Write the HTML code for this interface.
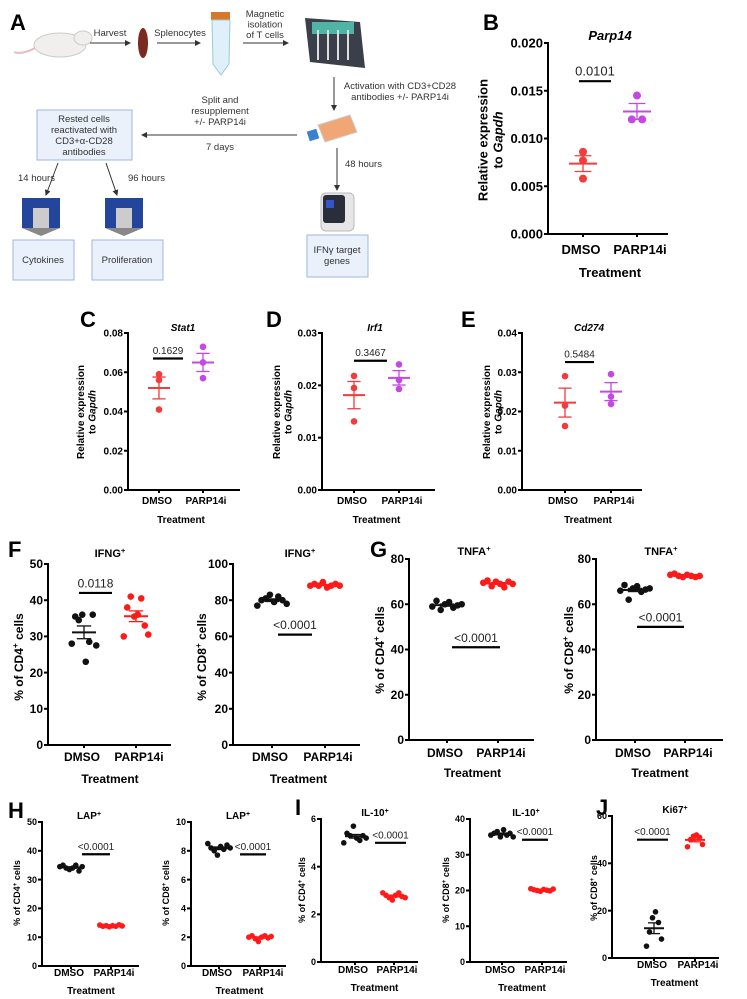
<!DOCTYPE html>
<html><head><meta charset="utf-8">
<style>
html,body{margin:0;padding:0;background:#fff;}
svg{display:block;}
text{font-family:"Liberation Sans Narrow","Liberation Sans",sans-serif;}
.lbl{font-family:"Liberation Sans",sans-serif;font-weight:bold;font-size:22px;}
.dg{font-family:"Liberation Sans Narrow","Liberation Sans",sans-serif;font-size:9.5px;fill:#333;}
</style></head>
<body>
<svg id="fig" width="747" height="999" viewBox="0 0 747 999" xmlns="http://www.w3.org/2000/svg">
<defs><marker id="ah" markerWidth="6" markerHeight="6" refX="5" refY="3" orient="auto"><path d="M0,0 L6,3 L0,6 z" fill="#333"/></marker></defs>
<g>
<text class="lbl" x="10" y="30">A</text>
<g><ellipse cx="60" cy="45" rx="26" ry="12" fill="#f1eeee" stroke="#ccc"/><ellipse cx="83" cy="38" rx="9" ry="7" fill="#f1eeee" stroke="#ccc"/><path d="M35,48 Q22,55 14,52" stroke="#e7bcbc" fill="none" stroke-width="2"/></g>
<line x1="90" y1="43" x2="130" y2="43" stroke="#333" marker-end="url(#ah)"/>
<text class="dg" x="110" y="36" text-anchor="middle">Harvest</text>
<ellipse cx="143" cy="43" rx="5" ry="15" fill="#7a2a20"/>
<line x1="157" y1="43" x2="200" y2="43" stroke="#333" marker-end="url(#ah)"/>
<text class="dg" x="180" y="36" text-anchor="middle">Splenocytes</text>
<g><rect x="211" y="12" width="19" height="8" fill="#d8772a"/><path d="M212,20 L230,20 L229,64 L221,75 L213,64 z" fill="#dff0fb" stroke="#9cc"/></g>
<line x1="243" y1="43" x2="288" y2="43" stroke="#333" marker-end="url(#ah)"/>
<text class="dg" x="265" y="17" text-anchor="middle"><tspan x="265">Magnetic</tspan><tspan x="265" dy="10.5">isolation</tspan><tspan x="265" dy="10.5">of T cells</tspan></text>
<g><path d="M305,18 L360,22 L365,68 L310,62 z" fill="#3a3f4a"/><rect x="312" y="22" width="42" height="12" fill="#4fb3a6"/><line x1="318" y1="30" x2="318" y2="60" stroke="#ddd" stroke-width="2"/><line x1="328" y1="30" x2="328" y2="60" stroke="#ddd" stroke-width="2"/><line x1="338" y1="30" x2="338" y2="60" stroke="#ddd" stroke-width="2"/><line x1="348" y1="30" x2="348" y2="60" stroke="#ddd" stroke-width="2"/></g>
<line x1="334" y1="77" x2="334" y2="110" stroke="#333" marker-end="url(#ah)"/>
<text class="dg" x="400" y="89" text-anchor="middle"><tspan x="400">Activation with CD3+CD28</tspan><tspan x="400" dy="11">antibodies +/- PARP14i</tspan></text>
<g><path d="M318,125 L350,115 L357,132 L325,142 z" fill="#f0a675" stroke="#ccc"/><rect x="308" y="130" width="10" height="10" fill="#3a7fd0" transform="rotate(-18 313 135)"/></g>
<line x1="297" y1="135" x2="142" y2="135" stroke="#333" marker-end="url(#ah)"/>
<text class="dg" x="220" y="103" text-anchor="middle"><tspan x="220">Split and</tspan><tspan x="220" dy="11">resupplement</tspan><tspan x="220" dy="11">+/- PARP14i</tspan></text>
<text class="dg" x="220" y="150" text-anchor="middle">7 days</text>
<rect x="37" y="110" width="95" height="50" fill="#eaf1fb" stroke="#9fb8dd"/>
<text class="dg" x="84" y="122" text-anchor="middle"><tspan x="84">Rested cells</tspan><tspan x="84" dy="11">reactivated with</tspan><tspan x="84" dy="11">CD3+α-CD28</tspan><tspan x="84" dy="11">antibodies</tspan></text>
<line x1="58" y1="163" x2="46" y2="195" stroke="#333" marker-end="url(#ah)"/>
<line x1="106" y1="163" x2="117" y2="195" stroke="#333" marker-end="url(#ah)"/>
<text class="dg" x="18" y="181">14 hours</text>
<text class="dg" x="128" y="181">96 hours</text>
<g><rect x="22" y="198" width="38" height="30" fill="#23459b"/><rect x="33" y="208" width="16" height="20" fill="#ccc"/><path d="M22,228 L60,228 L41,236 z" fill="#888"/></g>
<g><rect x="105" y="198" width="38" height="30" fill="#23459b"/><rect x="116" y="208" width="16" height="20" fill="#ccc"/><path d="M105,228 L143,228 L124,236 z" fill="#888"/></g>
<rect x="13" y="240" width="61" height="40" fill="#eaf1fb" stroke="#9fb8dd"/>
<text class="dg" x="43" y="263" text-anchor="middle">Cytokines</text>
<rect x="92" y="240" width="71" height="40" fill="#eaf1fb" stroke="#9fb8dd"/>
<text class="dg" x="127" y="263" text-anchor="middle">Proliferation</text>
<line x1="337" y1="148" x2="337" y2="190" stroke="#333" marker-end="url(#ah)"/>
<text class="dg" x="345" y="167">48 hours</text>
<g><rect x="321" y="193" width="33" height="38" rx="5" fill="#e6e6e6" stroke="#bbb"/><rect x="323" y="195" width="22" height="28" rx="3" fill="#2a2d3a"/><rect x="326" y="200" width="8" height="8" fill="#3456c8"/></g>
<rect x="307" y="235" width="61" height="42" fill="#eaf1fb" stroke="#9fb8dd"/>
<text class="dg" x="337" y="253" text-anchor="middle"><tspan x="337">IFNγ target</tspan><tspan x="337" dy="11">genes</tspan></text>
</g>
<g id="charts"></g>
</svg>
<script>
// ---- data ----
const cats=["DMSO","PARP14i"];
const bDmso=[0.0086,0.0077,0.0058], bParp=[0.0145,0.0120,0.0120];
const bTicks=["0.000","0.005","0.010","0.015","0.020"];
const cDmso=[0.059,0.056,0.041], cParp=[0.073,0.065,0.057];
const cTicks=["0.00","0.02","0.04","0.06","0.08"];
const dDmso=[0.0218,0.0195,0.0131], dParp=[0.0240,0.0210,0.0193];
const dTicks=["0.00","0.01","0.02","0.03"];
const eDmso=[0.0290,0.0215,0.0163], eParp=[0.0295,0.0238,0.0219];
const eTicks=["0.00","0.01","0.02","0.03","0.04"];
const f1Dmso=[28,35.5,34.5,36,23,28.5,36,27.5], f1Parp=[30,38,41,35.5,36,40.5,33,30.5];
const f1Ticks=["0","10","20","30","40","50"];
const f2Dmso=[77,80,81,83,79,82,80,78], f2Parp=[88,89,88,90,87,88,89,88];
const f2Ticks=["0","20","40","60","80","100"];
const g1Dmso=[59,61.5,57.5,60,61,58.5,59.5,60], g1Parp=[69.5,70.5,68,70,69,67.5,70,69];
const g2Dmso=[66,68.5,62,67,68,65.5,66.5,67], g2Parp=[73,73.5,72.5,72,73,72.5,72,72.5];
const gTicks=["0","20","40","60","80"];
const h1Dmso=[34.5,35,34,33.5,34,35,33,34.5], h1Parp=[14.2,13.8,14,13.6,14,13.8,14.3,13.9];
const h1Ticks=["0","10","20","30","40","50"];
const h2Dmso=[8.5,8.2,8.0,7.7,8.3,8.1,8.4,8.2], h2Parp=[2.0,2.1,1.9,1.7,2.0,2.1,1.95,2.05];
const h2Ticks=["0","2","4","6","8","10"];
const i1Dmso=[5.0,5.4,5.3,5.7,5.2,5.1,5.3,5.2], i1Parp=[2.9,2.8,2.7,2.6,2.8,2.9,2.75,2.7];
const i1Ticks=["0","2","4","6"];
const i2Dmso=[35.5,36,36.5,35,37,35.5,36,35], i2Parp=[20.5,20.2,20,19.8,20.3,20.1,19.9,20.4];
const i2Ticks=["0","10","20","30","40"];
const jDmso=[5,11,17,19.5,15,8], jParp=[47,50,51.5,52,51,48];
const jTicks=["0","20","40","60"];
const pvals=["0.0101","0.1629","0.3467","0.5484","0.0118","<0.0001","<0.0001","<0.0001","<0.0001","<0.0001","<0.0001","<0.0001","<0.0001"];

const NS="http://www.w3.org/2000/svg";
const root=document.getElementById('charts');
function mk(parent,tag,attrs,name){
  const el=document.createElementNS(NS,tag);
  for(const k in attrs) el.setAttribute(k,attrs[k]);
  
  
  parent.appendChild(el);return el;
}
function mean(a){return a.reduce((s,v)=>s+v,0)/a.length;}
function sem(a){const m=mean(a);const sd=Math.sqrt(a.reduce((s,v)=>s+(v-m)*(v-m),0)/(a.length-1));return sd/Math.sqrt(a.length);}

function panel(o){
  const g=mk(root,'g',{},o.id);
  const max=parseFloat(o.ticks[o.ticks.length-1]);
  const y=v=>o.y0-(v/max)*(o.y0-o.yt);
  const lw=o.lw||2;
  const ytf=o.ytk||o.tf;
  mk(g,'line',{x1:o.ax,y1:o.yt-1,x2:o.ax,y2:o.y0,stroke:'#000','stroke-width':lw},'y-axis');
  mk(g,'line',{x1:o.ax,y1:o.y0,x2:o.xe,y2:o.y0,stroke:'#000','stroke-width':lw},'x-axis');
  o.ticks.forEach(t=>{
    const v=parseFloat(t),yy=y(v);
    mk(g,'line',{x1:o.ax-4,y1:yy,x2:o.ax,y2:yy,stroke:'#000','stroke-width':lw},'y-tick');
    const tx=mk(g,'text',{x:o.ax-5,y:yy+ytf*0.35,'text-anchor':'end','font-size':ytf,'font-weight':'bold'},'y-tick-label');
    tx.textContent=t;
  });
  o.xs.forEach((x,i)=>{
    mk(g,'line',{x1:x,y1:o.y0,x2:x,y2:o.y0+3,stroke:'#000','stroke-width':lw},'x-tick');
    const tx=mk(g,'text',{x:x+(i===0?-2:3),y:o.xly,'text-anchor':'middle','font-size':o.tf,'font-weight':'bold'},'x-tick-label-'+cats[i].toLowerCase());
    tx.textContent=cats[i];
  });
  const tt=mk(g,'text',{x:(o.xs[0]+o.xs[1])/2,y:o.ty,'text-anchor':'middle','font-size':o.tf,'font-weight':'bold'},'x-axis-title');
  tt.textContent='Treatment';
  const ti=mk(g,'text',{x:o.tx,y:o.tly,'text-anchor':'middle','font-size':o.tlf,'font-weight':'bold','font-style':o.it?'italic':'normal'},'chart-title');
  ti.innerHTML=o.title;
  const yt=mk(g,'text',{transform:`translate(${o.ytx},${o.ytcy}) rotate(-90)`,'text-anchor':'middle','font-size':o.ytf,'font-weight':'bold','font-family':'Liberation Sans, sans-serif'},'y-axis-title');
  yt.innerHTML=o.ytitle;
  const pl=mk(g,'text',{x:(o.p1+o.p2)/2,y:y(o.pv)-o.pf*0.45,'text-anchor':'middle','font-size':o.pf,fill:'#222'},'p-value-label');
  pl.textContent=o.ptxt;
  mk(g,'line',{x1:o.p1,y1:y(o.pv),x2:o.p2,y2:y(o.pv),stroke:'#000','stroke-width':2.2},'p-value-bar');
  [o.d,o.p].forEach((arr,si)=>{
    const cx=o.xs[si],col=o.cols[si],n=arr.length;
    const sp=n>=6?(o.sp||4.3):0;
    arr.forEach((v,i)=>{
      let off=(i-(n-1)/2)*sp;
      if(n<6){const dup=arr.filter(w=>Math.abs(w-v)<max*0.01);if(dup.length>1){off=(arr.indexOf(v)===i?-1:1)*o.r*1.3;}}
      mk(g,'circle',{cx:cx+off,cy:y(v),r:o.r,fill:col},'point-'+cats[si].toLowerCase());
    });
    const m=mean(arr),s=sem(arr),hw=o.mw;
    const ec=col;
    mk(g,'line',{x1:cx-hw,y1:y(m),x2:cx+hw,y2:y(m),stroke:ec,'stroke-width':2},'mean-line-'+cats[si].toLowerCase());
    mk(g,'line',{x1:cx,y1:y(m+s),x2:cx,y2:y(m-s),stroke:ec,'stroke-width':1.3},'sem-bar-'+cats[si].toLowerCase());
    mk(g,'line',{x1:cx-hw*0.6,y1:y(m+s),x2:cx+hw*0.6,y2:y(m+s),stroke:ec,'stroke-width':1.3},'sem-cap-'+cats[si].toLowerCase());
    mk(g,'line',{x1:cx-hw*0.6,y1:y(m-s),x2:cx+hw*0.6,y2:y(m-s),stroke:ec,'stroke-width':1.3},'sem-cap-'+cats[si].toLowerCase());
  });
  const L=mk(g,'text',{x:o.lx,y:o.ly,'class':'lbl'},'panel-label');
  L.textContent=o.label;
}
const RED='#f23b3b',PUR='#c447e6',BLK='#111',RED2='#ff1a1a';
const relY='<tspan x="0" dy="-0.2em">Relative expression</tspan><tspan x="0" dy="1.15em">to <tspan font-style="italic">Gapdh</tspan></tspan>';
const cd4='% of CD4<tspan baseline-shift="super" font-size="70%">+</tspan> cells';
const cd8='% of CD8<tspan baseline-shift="super" font-size="70%">+</tspan> cells';
function sup(s){return s+'<tspan baseline-shift="super" font-size="70%">+</tspan>';}

panel({id:'panel-b',label:'B',lx:483,ly:30,ax:548,xe:668,yt:43,y0:234,ticks:bTicks,xs:[583,637],d:bDmso,p:bParp,cols:[RED,PUR],r:4,mw:14,tf:13,xly:254,ty:277,title:'Parp14',it:true,tx:610,tly:40,tlf:13,ytitle:relY,ytx:490,ytcy:140,ytf:13,pv:0.016,p1:579,p2:611,ptxt:pvals[0],pf:13});
panel({id:'panel-c',label:'C',lx:80,ly:327,ax:128,xe:240,yt:333,y0:490,ticks:cTicks,xs:[159,203],d:cDmso,p:cParp,cols:[RED,PUR],r:3.3,mw:11,tf:10,xly:504,ty:523,title:'Stat1',it:true,tx:183,tly:331,tlf:10,ytitle:relY,ytx:86,ytcy:412,ytf:10,pv:0.067,p1:153,p2:183,ptxt:pvals[1],pf:10});
panel({id:'panel-d',label:'D',lx:266,ly:327,ax:322,xe:435,yt:333,y0:490,ticks:dTicks,xs:[354,399],d:dDmso,p:dParp,cols:[RED,PUR],r:3.3,mw:11,tf:10,xly:504,ty:523,title:'Irf1',it:true,tx:375,tly:331,tlf:10,ytitle:relY,ytx:282,ytcy:412,ytf:10,pv:0.0247,p1:354,p2:387,ptxt:pvals[2],pf:10});
panel({id:'panel-e',label:'E',lx:461,ly:327,ax:522,xe:642,yt:333,y0:490,ticks:eTicks,xs:[565,611],d:eDmso,p:eParp,cols:[RED,PUR],r:3.3,mw:11,tf:10,xly:504,ty:523,title:'Cd274',it:true,tx:589,tly:331,tlf:10,ytitle:relY,ytx:492,ytcy:412,ytf:10,pv:0.0326,p1:565,p2:594,ptxt:pvals[3],pf:10});

panel({id:'panel-f-cd4',label:'F',lx:8,ly:557,ax:48,xe:171,yt:564,y0:745,ticks:f1Ticks,xs:[84,136],d:f1Dmso,p:f1Parp,cols:[BLK,RED2],r:3.3,mw:12,sp:3.5,tf:12,xly:761,ty:783,title:sup('IFNG'),it:false,tx:110,tly:557,tlf:11,ytitle:cd4,ytx:23,ytcy:657,ytf:12,pv:42,p1:79,p2:112,ptxt:pvals[4],pf:12});
panel({id:'panel-f-cd8',label:'',lx:0,ly:0,ax:233,xe:360,yt:564,y0:745,ticks:f2Ticks,xs:[272,325],d:f2Dmso,p:f2Parp,cols:[BLK,RED2],r:3.3,mw:12,sp:4.2,tf:12,xly:761,ty:783,title:sup('IFNG'),it:false,tx:300,tly:557,tlf:11,ytitle:cd8,ytx:206,ytcy:657,ytf:12,pv:61,p1:278,p2:312,ptxt:pvals[5],pf:12});
panel({id:'panel-g-cd4',label:'G',lx:370,ly:557,ax:409,xe:534,yt:559,y0:740,ticks:gTicks,xs:[447,498],d:g1Dmso,p:g1Parp,cols:[BLK,RED2],r:3.3,mw:12,sp:4.2,tf:12,xly:757,ty:777,title:sup('TNFA'),it:false,tx:474,tly:555,tlf:11,ytitle:cd4,ytx:384,ytcy:650,ytf:12,pv:41,p1:452,p2:500,ptxt:pvals[6],pf:12});
panel({id:'panel-g-cd8',label:'',lx:0,ly:0,ax:596,xe:723,yt:559,y0:740,ticks:gTicks,xs:[635,685],d:g2Dmso,p:g2Parp,cols:[BLK,RED2],r:3.3,mw:12,sp:4.2,tf:12,xly:757,ty:777,title:sup('TNFA'),it:false,tx:661,tly:555,tlf:11,ytitle:cd8,ytx:573,ytcy:650,ytf:12,pv:50,p1:637,p2:684,ptxt:pvals[7],pf:12});

panel({id:'panel-h-cd4',label:'H',lx:8,ly:818,ax:42,xe:139,yt:822,y0:966,ticks:h1Ticks,xs:[71,111],d:h1Dmso,p:h1Parp,cols:[BLK,RED2],r:2.8,mw:10,sp:3.2,tf:10,ytk:9,xly:976,ty:994,title:sup('LAP'),it:false,tx:89,tly:819,tlf:10,ytitle:cd4,ytx:20,ytcy:893,ytf:9,pv:38.8,p1:82,p2:110,ptxt:pvals[8],pf:10});
panel({id:'panel-h-cd8',label:'',lx:0,ly:0,ax:191,xe:286,yt:822,y0:966,ticks:h2Ticks,xs:[219,260],d:h2Dmso,p:h2Parp,cols:[BLK,RED2],r:2.8,mw:10,sp:3.2,tf:10,ytk:9,xly:976,ty:994,title:sup('LAP'),it:false,tx:238,tly:819,tlf:10,ytitle:cd8,ytx:169,ytcy:893,ytf:9,pv:7.75,p1:240,p2:266,ptxt:pvals[9],pf:10});
panel({id:'panel-i-cd4',label:'I',lx:295,ly:815,ax:321,xe:418,yt:819,y0:962,ticks:i1Ticks,xs:[355,394],d:i1Dmso,p:i1Parp,cols:[BLK,RED2],r:2.8,mw:10,sp:3.2,tf:10,ytk:9,xly:973,ty:991,title:sup('IL-10'),it:false,tx:375,tly:816,tlf:10,ytitle:cd4,ytx:305,ytcy:890,ytf:9,pv:5.0,p1:375,p2:406,ptxt:pvals[10],pf:10});
panel({id:'panel-i-cd8',label:'',lx:0,ly:0,ax:470,xe:567,yt:819,y0:962,ticks:i2Ticks,xs:[502,542],d:i2Dmso,p:i2Parp,cols:[BLK,RED2],r:2.8,mw:10,sp:3.2,tf:10,ytk:9,xly:973,ty:991,title:sup('IL-10'),it:false,tx:526,tly:816,tlf:10,ytitle:cd8,ytx:449,ytcy:890,ytf:9,pv:34.2,p1:522,p2:548,ptxt:pvals[11],pf:10});
panel({id:'panel-j',label:'J',lx:596,ly:815,ax:612,xe:719,yt:816,y0:958,ticks:jTicks,xs:[654,695],d:jDmso,p:jParp,cols:[BLK,RED2],r:2.8,mw:10,sp:3,tf:10,ytk:9,xly:968,ty:986,title:sup('Ki67'),it:false,tx:675,tly:813,tlf:10,ytitle:cd8,ytx:597,ytcy:888,ytf:9,pv:50,p1:637,p2:668,ptxt:pvals[12],pf:10});
</script>
</body></html>
